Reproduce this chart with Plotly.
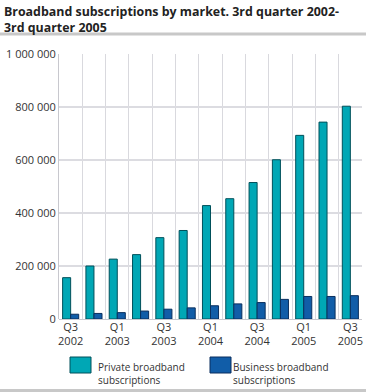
import plotly.graph_objects as go

quarters = ["Q3 2002", "Q4 2002", "Q1 2003", "Q2 2003", "Q3 2003", "Q4 2003", "Q1 2004",
            "Q2 2004", "Q3 2004", "Q4 2004", "Q1 2005", "Q2 2005", "Q3 2005"]
tick_labels = ["Q3<br>2002", "", "Q1<br>2003", "", "Q3<br>2003", "", "Q1<br>2004",
               "", "Q3<br>2004", "", "Q1<br>2005", "", "Q3<br>2005"]
private = [156000, 200000, 226000, 243000, 307000, 334000, 428000,
           454000, 515000, 601000, 693000, 743000, 803000]
business = [18000, 21000, 24000, 30000, 37000, 42000, 50000,
            57000, 62000, 74000, 85000, 85000, 88000]
y_ticks = [0, 200000, 400000, 600000, 800000, 1000000]
y_tick_text = ["0", "200 000", "400 000", "600 000", "800 000", "1 000 000"]

title = "Broadband subscriptions by market. 3rd quarter 2002-<br>3rd quarter 2005"
names = ["Private broadband<br>subscriptions", "Business broadband<br>subscriptions"]
colors = ["#00A7B5", "#115DA8"]
outlines = ["#00505A", "#0A2F5E"]

FONT = "Open Sans"
TXT = "#333333"

fig = go.Figure()
fig.add_trace(go.Bar(x=quarters, y=private, name=names[0],
                     marker=dict(color=colors[0], line=dict(color=outlines[0], width=1))))
fig.add_trace(go.Bar(x=quarters, y=business, name=names[1],
                     marker=dict(color=colors[1], line=dict(color=outlines[1], width=1))))

fig.update_layout(
    width=366, height=392,
    margin=dict(l=59, r=4, t=54, b=73),
    paper_bgcolor="white", plot_bgcolor="white",
    barmode="group", bargap=0.31, bargroupgap=0,
    showlegend=False,
    font=dict(family=FONT, size=11, color=TXT),
    xaxis=dict(
        type="category", tickson="boundaries", showgrid=True, gridcolor="#D9D9DE", gridwidth=1,
        tickmode="array", tickvals=quarters, ticktext=tick_labels, ticks="", tickangle=0,
        showline=False, automargin=False, tickfont=dict(family=FONT, size=11, color=TXT),
    ),
    yaxis=dict(
        range=[0, 1000000], tickmode="array", tickvals=y_ticks, ticktext=y_tick_text,
        showgrid=True, gridcolor="#DCDCE1", gridwidth=1.5, automargin=False,
        showline=True, linecolor="#C8C8CE", linewidth=1,
        zeroline=True, zerolinecolor="#C8C8CE", zerolinewidth=1,
        ticks="", tickfont=dict(family=FONT, size=11, color=TXT),
    ),
)

# Title and decoration
fig.add_annotation(text="<b>" + title + "</b>", xref="paper", yref="paper",
                   x=-57/303, y=1 + 53/265, xanchor="left", yanchor="top", showarrow=False,
                   align="left", font=dict(family=FONT, size=12.4, color="#222222"))
fig.add_shape(type="line", xref="paper", yref="paper", x0=-59/303, x1=1 + 4/303,
              y0=1 + 20/265, y1=1 + 20/265, line=dict(color="#C8C8C8", width=3))
fig.add_shape(type="line", xref="paper", yref="paper", x0=-59/303, x1=1 + 4/303,
              y0=-71.5/265, y1=-71.5/265, line=dict(color="#C8C8C8", width=3))

# Manual legend
legend_x = [70, 210]
text_x = [96, 231]
for i in range(2):
    x0 = (legend_x[i] - 59) / 303
    x1 = (legend_x[i] + 21 - 59) / 303
    fig.add_shape(type="rect", xref="paper", yref="paper", x0=x0, x1=x1,
                  y0=(319 - 373) / 265, y1=(319 - 357) / 265,
                  fillcolor=colors[i], line=dict(color=outlines[i], width=1))
    fig.add_annotation(text=names[i], xref="paper", yref="paper",
                       x=(text_x[i] - 59) / 303, y=(319 - 373) / 265,
                       xanchor="left", yanchor="middle", showarrow=False, align="left",
                       font=dict(family=FONT, size=10, color=TXT))

fig.write_html("out.html", config={"displayModeBar": False},
               post_script="document.body.style.margin='0';")
